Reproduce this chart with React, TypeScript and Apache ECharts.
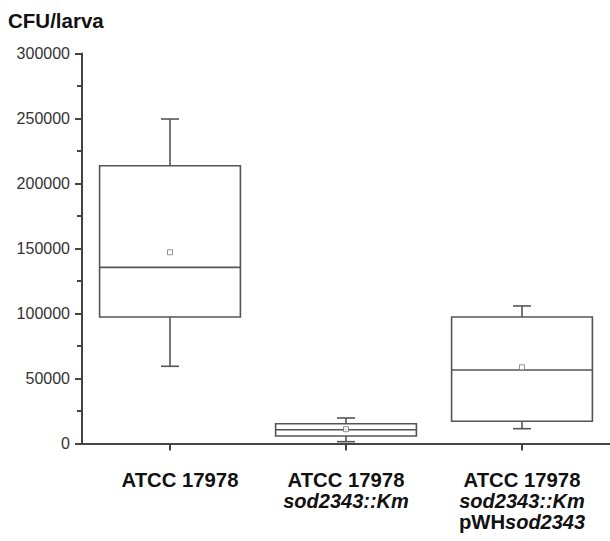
import React, { useEffect, useRef } from "react";
import * as echarts from "echarts";

const categories = ["wt", "mut", "comp"];
// [low whisker, Q1, median, Q3, high whisker]
const boxStats = [
  [59400, 97300, 135500, 213700, 249600],
  [1400, 5800, 10600, 15200, 19600],
  [11400, 17100, 56500, 97300, 105800],
];
const means = [147100, 11000, 58600];
const yTicks = { min: 0, max: 300000, interval: 50000 };

const FONT = "'Liberation Sans', Arial, Helvetica, sans-serif";

const labelFor: Record<string, string> = {
  wt: "{b0|ATCC 17978}",
  mut: "{b|ATCC 17978}\n{i|sod2343::Km}",
  comp: "{b|ATCC 17978}\n{i|sod2343::Km}\n{b|pWH}{i|sod2343}",
};

export default function App() {
  const ref = useRef<HTMLDivElement>(null);
  useEffect(() => {
    if (!ref.current) return;
    const chart = echarts.init(ref.current, undefined, { renderer: "svg" });
    const boxData = boxStats.map((s, i) => [i, ...s]);
    const stroke = "#555";
    chart.setOption({
      animation: false,
      backgroundColor: "#fff",
      title: {
        text: "CFU/larva",
        left: 8,
        top: 10,
        padding: 0,
        textStyle: { fontFamily: FONT, fontSize: 20.5, fontWeight: "bold", color: "#111" },
      },
      grid: { left: 82, right: -4, top: 53.5, bottom: 97.5, containLabel: false },
      xAxis: {
        type: "category",
        data: categories,
        axisLine: { lineStyle: { color: "#444", width: 2 } },
        axisTick: { show: true, alignWithLabel: true, length: 7, lineStyle: { color: "#444", width: 2 } },
        axisLabel: {
          margin: 26,
          formatter: (v: string) => labelFor[v],
          rich: {
            b0: { fontFamily: FONT, fontSize: 20.3, fontWeight: "bold", color: "#111", lineHeight: 21, padding: [0, 0, 0, 20] },
            b: { fontFamily: FONT, fontSize: 20.3, fontWeight: "bold", color: "#111", lineHeight: 21 },
            i: { fontFamily: FONT, fontSize: 20, fontWeight: "bold", fontStyle: "italic", color: "#111", lineHeight: 21 },
          },
        },
        splitLine: { show: false },
      },
      yAxis: {
        type: "value",
        min: yTicks.min,
        max: yTicks.max,
        interval: yTicks.interval,
        axisLine: { show: true, lineStyle: { color: "#444", width: 2 } },
        axisTick: { show: true, length: 7, lineStyle: { color: "#444", width: 2 } },
        minorTick: { show: true, splitNumber: 2, length: 5, lineStyle: { color: "#444", width: 2 } },
        axisLabel: {
          margin: 12,
          fontFamily: FONT,
          fontSize: 16,
          color: "#333",
          formatter: (v: number) => String(v),
        },
        splitLine: { show: false },
      },
      series: [
        {
          type: "custom",
          data: boxData,
          encode: { x: 0, y: [1, 2, 3, 4, 5] },
          renderItem: (params: any, api: any) => {
            const idx = api.value(0);
            const lo = api.coord([idx, api.value(1)]);
            const q1 = api.coord([idx, api.value(2)]);
            const md = api.coord([idx, api.value(3)]);
            const q3 = api.coord([idx, api.value(4)]);
            const hi = api.coord([idx, api.value(5)]);
            const band = api.size([1, 0])[0];
            const hw = band * 0.4;
            const cw = 9;
            const x = lo[0];
            const ls = { stroke, lineWidth: 1.6, fill: "none" };
            return {
              type: "group",
              children: [
                { type: "rect", shape: { x: x - hw, y: q3[1], width: 2 * hw, height: q1[1] - q3[1] }, style: { ...ls, fill: "none" } },
                { type: "line", shape: { x1: x - hw, y1: md[1], x2: x + hw, y2: md[1] }, style: ls },
                { type: "line", shape: { x1: x, y1: q3[1], x2: x, y2: hi[1] }, style: ls },
                { type: "line", shape: { x1: x, y1: q1[1], x2: x, y2: lo[1] }, style: ls },
                { type: "line", shape: { x1: x - cw, y1: hi[1], x2: x + cw, y2: hi[1] }, style: ls },
                { type: "line", shape: { x1: x - cw, y1: lo[1], x2: x + cw, y2: lo[1] }, style: ls },
              ],
            };
          },
          z: 2,
        },
        {
          type: "scatter",
          data: means.map((m, i) => [i, m]),
          symbol: "rect",
          symbolSize: 5,
          itemStyle: { color: "#fff", borderColor: "#777", borderWidth: 1 },
          z: 3,
        },
      ],
    });
    return () => chart.dispose();
  }, []);
  return <div ref={ref} style={{ width: 610, height: 541, position: "absolute", left: 0, top: 0 }} />;
}
